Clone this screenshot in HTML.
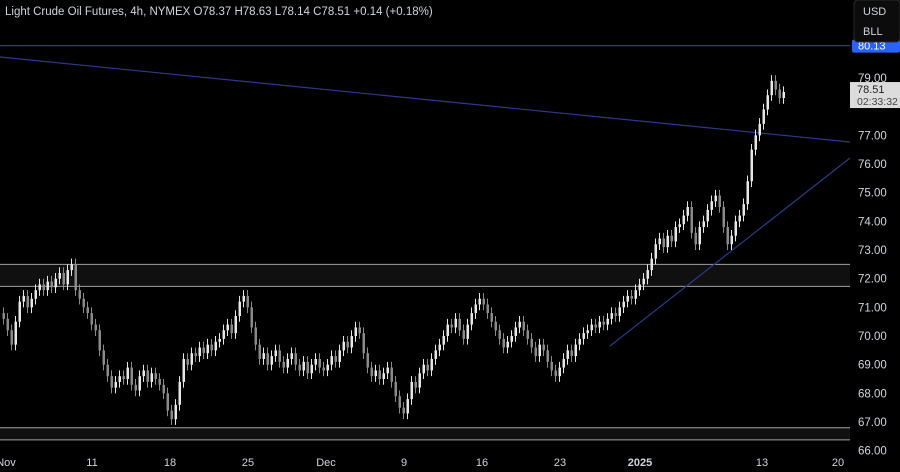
<!DOCTYPE html>
<html><head><meta charset="utf-8"><style>
html,body{margin:0;padding:0;background:#000;}
body{width:900px;height:472px;overflow:hidden;font-family:"Liberation Sans",sans-serif;}
</style></head><body>
<svg id="chart" width="900" height="472" xmlns="http://www.w3.org/2000/svg" style="display:block;background:#000">
<text x="5" y="15" fill="#d1d4dc" font-size="11.5" font-family="Liberation Sans, sans-serif">Light Crude Oil Futures, 4h, NYMEX  O78.37  H78.63  L78.14  C78.51  +0.14 (+0.18%)</text>
<g id="zones"></g><g id="lines"></g><g id="candles"></g><g id="axes"></g>
<g>
<rect x="854" y="0" width="46" height="42" rx="4" fill="#0c0c0c" stroke="#2a2a2a"/>
<text x="863" y="15" fill="#d1d4dc" font-size="11">USD</text>
<text x="863" y="35" fill="#d1d4dc" font-size="11">BLL</text>
</g>
</svg>
<script>
const closes = [
70.6,70.2,69.7,70.5,71.2,71.4,71.0,71.3,71.6,71.8,
71.6,71.9,71.7,72.0,72.2,71.8,72.3,72.5,71.6,71.3,
71.0,70.8,70.4,70.2,69.5,69.0,68.6,68.2,68.4,68.6,
68.5,68.9,68.3,68.1,68.6,68.8,68.4,68.7,68.5,68.3,
68.0,67.4,67.1,67.6,68.4,69.2,69.0,69.4,69.3,69.6,
69.4,69.7,69.5,69.8,69.9,70.2,70.4,70.1,70.7,71.2,
71.4,71.0,70.3,69.7,69.2,69.4,69.0,69.3,69.5,69.1,
68.9,69.2,69.4,69.0,68.8,69.1,68.7,69.0,69.2,68.9,
68.8,69.0,69.3,69.1,69.5,69.8,69.6,70.0,70.3,70.1,
69.4,68.9,68.6,68.8,68.5,68.7,68.9,68.4,67.9,67.5,
67.3,67.8,68.4,68.2,68.7,69.0,68.8,69.2,69.5,69.7,
70.0,70.4,70.3,70.6,70.2,69.9,70.4,70.8,71.1,71.3,
71.1,70.8,70.5,70.2,69.9,69.6,69.8,70.0,70.3,70.5,
70.2,69.9,69.6,69.3,69.7,69.5,69.1,68.8,68.6,68.9,
69.2,69.5,69.3,69.7,69.9,70.1,70.2,70.4,70.3,70.5,
70.4,70.6,70.8,70.7,71.0,71.2,71.4,71.3,71.6,71.8,
72.0,72.3,72.7,73.2,73.4,73.1,73.5,73.3,73.8,73.9,
74.2,74.5,73.6,73.2,73.8,74.0,74.4,74.7,74.9,74.5,
73.8,73.2,73.5,74.0,74.2,74.6,75.4,76.5,77.0,77.4,
77.9,78.4,78.9,78.6,78.3,78.51];
const priceTicks = [79,77,76,75,74,73,72,71,70,69,68,67,66];
const dateLabels = ["Nov","11","18","25","Dec","9","16","23","2025","13","20"];
const dateIdx = [1,22.5,42,61.5,81,100.5,120,139.5,159.5,190,209];
const zoneTops = [72.5,66.8];
const zoneBottoms = [71.73,66.38];
const resistance = 80.13;
const lastPrice = 78.51;
const NS="http://www.w3.org/2000/svg";
const y = p => 78 + (79 - p) * 28.67;
const x = i => 2 + i * 4;
function mk(tag, attrs, parent){const e=document.createElementNS(NS,tag);for(const k in attrs)e.setAttribute(k,attrs[k]);parent.appendChild(e);return e;}
const zg=document.getElementById('zones'),lg=document.getElementById('lines'),cg=document.getElementById('candles'),ag=document.getElementById('axes');
zoneTops.forEach((t,k)=>{
  const g=mk('g',{},zg);
  
  
  mk('rect',{x:0,y:y(t),width:850,height:y(zoneBottoms[k])-y(t),fill:'#101010'},g);
  mk('line',{x1:0,x2:850,y1:y(t),y2:y(t),stroke:'#a0a0a0','stroke-width':1},g);
  mk('line',{x1:0,x2:850,y1:y(zoneBottoms[k]),y2:y(zoneBottoms[k]),stroke:'#a0a0a0','stroke-width':1},g);
});
let l=mk('line',{x1:0,y1:y(resistance),x2:850,y2:y(resistance),stroke:'#2a3a8a','stroke-width':1.2},lg);


l=mk('line',{x1:0,y1:57,x2:850,y2:142,stroke:'#2a3a8a','stroke-width':1.2},lg);


l=mk('line',{x1:610,y1:346,x2:850,y2:158,stroke:'#2a3a8a','stroke-width':1.2},lg);


closes.forEach((c,i)=>{
  const o=i?closes[i-1]:c+0.2;
  const up=c>=o, col=up?'#e6e6e6':'#8a8a8a';
  const hi=Math.max(o,c)+0.2, lo=Math.min(o,c)-0.2;
  const g=mk('g',{},cg);
  
  
  mk('line',{x1:x(i)+1.5,x2:x(i)+1.5,y1:y(hi),y2:y(lo),stroke:col,'stroke-width':1},g);
  mk('rect',{x:x(i)+0.5,y:y(Math.max(o,c)),width:2.5,height:Math.max(1,Math.abs(y(o)-y(c))),fill:col},g);
});
priceTicks.forEach(p=>{
  const t=mk('text',{x:858,y:y(p)+4,fill:'#d1d4dc','font-size':11.5},ag);
  t.textContent=p.toFixed(2);
  
  
});
dateLabels.forEach((d,k)=>{
  const t=mk('text',{x:x(dateIdx[k]),y:466,fill:'#d1d4dc','font-size':11,'text-anchor':'middle','font-weight':d==='2025'?'bold':'normal'},ag);
  t.textContent=d;
  
  
});
let b=mk('rect',{x:852,y:y(resistance)-6,width:48,height:13,fill:'#2962ff',rx:2},ag);


let bt=mk('text',{x:858,y:y(resistance)+4,fill:'#fff','font-size':11},ag);bt.textContent=resistance.toFixed(2);
b=mk('rect',{x:850,y:y(lastPrice)-10,width:50,height:26,fill:'#dcdcdc'},ag);


bt=mk('text',{x:857,y:y(lastPrice)+1,fill:'#222','font-size':11},ag);bt.textContent=lastPrice.toFixed(2);
bt=mk('text',{x:857,y:y(lastPrice)+13,fill:'#444','font-size':10.5},ag);bt.textContent='02:33:32';
</script>
</body></html>
